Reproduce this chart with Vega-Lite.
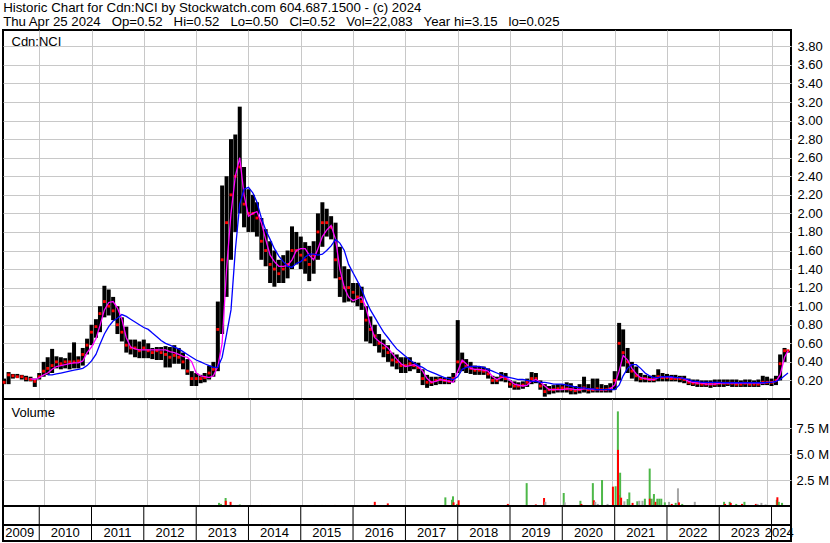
{
"$schema":"https://vega.github.io/schema/vega-lite/v6.json",
"padding":{"left":1,"top":1,"right":0,"bottom":0},
"background":"white",
"bounds":"flush",
"title":{"text":"Historic Chart for Cdn:NCI by Stockwatch.com 604.687.1500 - (c) 2024","subtitle":"Thu Apr 25 2024\u00a0\u00a0\u00a0Op=0.52\u00a0\u00a0\u00a0Hi=0.52\u00a0\u00a0\u00a0Lo=0.50\u00a0\u00a0\u00a0Cl=0.52\u00a0\u00a0\u00a0Vol=22,083\u00a0\u00a0\u00a0Year hi=3.15\u00a0\u00a0\u00a0lo=0.025","anchor":"start","font":"Liberation Sans","subtitleFont":"Liberation Sans","fontSize":13.3,"subtitleFontSize":13.2,"fontWeight":"normal","subtitleFontWeight":"normal","color":"black","subtitleColor":"black","offset":1,"subtitlePadding":1.5,"dx":2},
"config":{"view":{"stroke":"black","strokeWidth":2},"axis":{"labelFont":"Liberation Sans","labelFontSize":13,"labelColor":"black"}},
"datasets":{
"p":[
{"d":"2009-05-01","h":0.22,"l":0.16,"c":0.18,"a":null,"b":null},
{"d":"2009-06-01","h":0.29,"l":0.16,"c":0.26,"a":null,"b":null},
{"d":"2009-07-01","h":0.27,"l":0.22,"c":0.25,"a":null,"b":null},
{"d":"2009-08-01","h":0.27,"l":0.23,"c":0.24,"a":null,"b":null},
{"d":"2009-09-01","h":0.26,"l":0.21,"c":0.24,"a":null,"b":null},
{"d":"2009-10-01","h":0.25,"l":0.19,"c":0.22,"a":null,"b":null},
{"d":"2009-11-01","h":0.24,"l":0.19,"c":0.21,"a":0.22,"b":null},
{"d":"2009-12-01","h":0.22,"l":0.13,"c":0.19,"a":0.21,"b":null},
{"d":"2010-01-01","h":0.28,"l":0.21,"c":0.24,"a":0.23,"b":null},
{"d":"2010-02-01","h":0.40,"l":0.24,"c":0.30,"a":0.26,"b":null},
{"d":"2010-03-01","h":0.45,"l":0.26,"c":0.33,"a":0.28,"b":0.26},
{"d":"2010-04-01","h":0.54,"l":0.28,"c":0.36,"a":0.32,"b":0.26},
{"d":"2010-05-01","h":0.46,"l":0.33,"c":0.40,"a":0.35,"b":0.27},
{"d":"2010-06-01","h":0.45,"l":0.32,"c":0.38,"a":0.36,"b":0.28},
{"d":"2010-07-01","h":0.44,"l":0.33,"c":0.40,"a":0.37,"b":0.29},
{"d":"2010-08-01","h":0.50,"l":0.32,"c":0.40,"a":0.38,"b":0.30},
{"d":"2010-09-01","h":0.61,"l":0.33,"c":0.40,"a":0.39,"b":0.31},
{"d":"2010-10-01","h":0.46,"l":0.33,"c":0.41,"a":0.39,"b":0.32},
{"d":"2010-11-01","h":0.55,"l":0.36,"c":0.48,"a":0.41,"b":0.33},
{"d":"2010-12-01","h":0.65,"l":0.48,"c":0.58,"a":0.50,"b":0.36},
{"d":"2011-01-01","h":0.80,"l":0.58,"c":0.72,"a":0.56,"b":0.41},
{"d":"2011-02-01","h":0.86,"l":0.66,"c":0.78,"a":0.65,"b":0.48},
{"d":"2011-03-01","h":1.00,"l":0.72,"c":0.92,"a":0.79,"b":0.59},
{"d":"2011-04-01","h":1.22,"l":0.88,"c":1.05,"a":0.96,"b":0.70},
{"d":"2011-05-01","h":1.18,"l":0.90,"c":1.00,"a":1.04,"b":0.78},
{"d":"2011-06-01","h":1.10,"l":0.85,"c":0.95,"a":1.05,"b":0.84},
{"d":"2011-07-01","h":1.00,"l":0.70,"c":0.80,"a":0.98,"b":0.87},
{"d":"2011-08-01","h":0.88,"l":0.62,"c":0.72,"a":0.86,"b":0.91},
{"d":"2011-09-01","h":0.78,"l":0.50,"c":0.58,"a":0.66,"b":0.89},
{"d":"2011-10-01","h":0.64,"l":0.48,"c":0.55,"a":0.56,"b":0.86},
{"d":"2011-11-01","h":0.64,"l":0.45,"c":0.55,"a":0.54,"b":0.83},
{"d":"2011-12-01","h":0.62,"l":0.44,"c":0.52,"a":0.53,"b":0.80},
{"d":"2012-01-01","h":0.64,"l":0.44,"c":0.55,"a":0.53,"b":0.77},
{"d":"2012-02-01","h":0.60,"l":0.44,"c":0.52,"a":0.53,"b":0.75},
{"d":"2012-03-01","h":0.55,"l":0.43,"c":0.50,"a":0.53,"b":0.71},
{"d":"2012-04-01","h":0.56,"l":0.42,"c":0.52,"a":0.53,"b":0.67},
{"d":"2012-05-01","h":0.56,"l":0.42,"c":0.50,"a":0.53,"b":0.63},
{"d":"2012-06-01","h":0.57,"l":0.34,"c":0.48,"a":0.53,"b":0.60},
{"d":"2012-07-01","h":0.56,"l":0.34,"c":0.45,"a":0.51,"b":0.58},
{"d":"2012-08-01","h":0.58,"l":0.38,"c":0.47,"a":0.50,"b":0.56},
{"d":"2012-09-01","h":0.55,"l":0.38,"c":0.45,"a":0.48,"b":0.54},
{"d":"2012-10-01","h":0.50,"l":0.32,"c":0.40,"a":0.46,"b":0.51},
{"d":"2012-11-01","h":0.43,"l":0.26,"c":0.30,"a":0.45,"b":0.48},
{"d":"2012-12-01","h":0.30,"l":0.14,"c":0.22,"a":0.40,"b":0.45},
{"d":"2013-01-01","h":0.28,"l":0.14,"c":0.22,"a":0.28,"b":0.42},
{"d":"2013-02-01","h":0.26,"l":0.17,"c":0.22,"a":0.25,"b":0.40},
{"d":"2013-03-01","h":0.28,"l":0.18,"c":0.23,"a":0.24,"b":0.38},
{"d":"2013-04-01","h":0.36,"l":0.21,"c":0.28,"a":0.23,"b":0.36},
{"d":"2013-05-01","h":0.40,"l":0.24,"c":0.32,"a":0.25,"b":0.34},
{"d":"2013-06-01","h":1.05,"l":0.30,"c":0.75,"a":0.35,"b":0.34},
{"d":"2013-07-01","h":2.30,"l":0.70,"c":1.50,"a":0.60,"b":0.45},
{"d":"2013-08-01","h":2.40,"l":1.10,"c":1.90,"a":1.40,"b":0.70},
{"d":"2013-09-01","h":2.80,"l":1.50,"c":2.20,"a":2.00,"b":0.96},
{"d":"2013-10-01","h":2.85,"l":1.80,"c":2.40,"a":2.40,"b":1.60},
{"d":"2013-11-01","h":3.15,"l":2.00,"c":2.50,"a":2.60,"b":2.10},
{"d":"2013-12-01","h":2.50,"l":1.85,"c":2.10,"a":2.20,"b":2.26},
{"d":"2014-01-01","h":2.26,"l":1.80,"c":2.00,"a":1.97,"b":2.28},
{"d":"2014-02-01","h":2.20,"l":1.80,"c":2.00,"a":2.00,"b":2.22},
{"d":"2014-03-01","h":2.12,"l":1.75,"c":1.95,"a":2.02,"b":2.12},
{"d":"2014-04-01","h":1.95,"l":1.50,"c":1.70,"a":1.90,"b":1.95},
{"d":"2014-05-01","h":1.83,"l":1.43,"c":1.60,"a":1.72,"b":1.82},
{"d":"2014-06-01","h":1.70,"l":1.25,"c":1.45,"a":1.55,"b":1.72},
{"d":"2014-07-01","h":1.60,"l":1.21,"c":1.40,"a":1.48,"b":1.62},
{"d":"2014-08-01","h":1.50,"l":1.25,"c":1.35,"a":1.43,"b":1.54},
{"d":"2014-09-01","h":1.55,"l":1.25,"c":1.40,"a":1.43,"b":1.48},
{"d":"2014-10-01","h":1.60,"l":1.30,"c":1.45,"a":1.44,"b":1.43},
{"d":"2014-11-01","h":1.86,"l":1.40,"c":1.60,"a":1.50,"b":1.42},
{"d":"2014-12-01","h":1.80,"l":1.45,"c":1.60,"a":1.60,"b":1.46},
{"d":"2015-01-01","h":1.75,"l":1.40,"c":1.55,"a":1.62,"b":1.48},
{"d":"2015-02-01","h":1.69,"l":1.35,"c":1.50,"a":1.62,"b":1.53},
{"d":"2015-03-01","h":1.65,"l":1.27,"c":1.45,"a":1.55,"b":1.56},
{"d":"2015-04-01","h":1.70,"l":1.35,"c":1.55,"a":1.50,"b":1.56},
{"d":"2015-05-01","h":2.00,"l":1.50,"c":1.80,"a":1.62,"b":1.55},
{"d":"2015-06-01","h":2.12,"l":1.64,"c":1.90,"a":1.75,"b":1.56},
{"d":"2015-07-01","h":2.05,"l":1.75,"c":1.90,"a":1.82,"b":1.60},
{"d":"2015-08-01","h":1.97,"l":1.72,"c":1.85,"a":1.87,"b":1.65},
{"d":"2015-09-01","h":1.90,"l":1.30,"c":1.50,"a":1.72,"b":1.72},
{"d":"2015-10-01","h":1.64,"l":1.10,"c":1.30,"a":1.40,"b":1.68},
{"d":"2015-11-01","h":1.43,"l":1.04,"c":1.20,"a":1.20,"b":1.60},
{"d":"2015-12-01","h":1.40,"l":1.05,"c":1.20,"a":1.10,"b":1.45},
{"d":"2016-01-01","h":1.25,"l":1.04,"c":1.15,"a":1.06,"b":1.36},
{"d":"2016-02-01","h":1.25,"l":1.00,"c":1.10,"a":1.08,"b":1.27},
{"d":"2016-03-01","h":1.21,"l":0.96,"c":1.05,"a":1.10,"b":1.18},
{"d":"2016-04-01","h":1.00,"l":0.62,"c":0.85,"a":0.98,"b":1.06},
{"d":"2016-05-01","h":0.89,"l":0.60,"c":0.75,"a":0.80,"b":0.96},
{"d":"2016-06-01","h":0.80,"l":0.57,"c":0.68,"a":0.66,"b":0.88},
{"d":"2016-07-01","h":0.70,"l":0.50,"c":0.60,"a":0.62,"b":0.80},
{"d":"2016-08-01","h":0.64,"l":0.45,"c":0.55,"a":0.59,"b":0.72},
{"d":"2016-09-01","h":0.58,"l":0.40,"c":0.50,"a":0.55,"b":0.66},
{"d":"2016-10-01","h":0.50,"l":0.35,"c":0.42,"a":0.49,"b":0.60},
{"d":"2016-11-01","h":0.48,"l":0.32,"c":0.40,"a":0.43,"b":0.54},
{"d":"2016-12-01","h":0.45,"l":0.28,"c":0.36,"a":0.38,"b":0.50},
{"d":"2017-01-01","h":0.45,"l":0.28,"c":0.36,"a":0.35,"b":0.46},
{"d":"2017-02-01","h":0.45,"l":0.30,"c":0.38,"a":0.36,"b":0.42},
{"d":"2017-03-01","h":0.40,"l":0.32,"c":0.36,"a":0.37,"b":0.39},
{"d":"2017-04-01","h":0.39,"l":0.28,"c":0.34,"a":0.35,"b":0.36},
{"d":"2017-05-01","h":0.32,"l":0.15,"c":0.22,"a":0.30,"b":0.34},
{"d":"2017-06-01","h":0.26,"l":0.12,"c":0.18,"a":0.22,"b":0.31},
{"d":"2017-07-01","h":0.24,"l":0.14,"c":0.18,"a":0.18,"b":0.29},
{"d":"2017-08-01","h":0.24,"l":0.15,"c":0.20,"a":0.19,"b":0.27},
{"d":"2017-09-01","h":0.24,"l":0.16,"c":0.21,"a":0.21,"b":0.25},
{"d":"2017-10-01","h":0.23,"l":0.16,"c":0.20,"a":0.20,"b":0.23},
{"d":"2017-11-01","h":0.24,"l":0.16,"c":0.19,"a":0.19,"b":0.22},
{"d":"2017-12-01","h":0.28,"l":0.18,"c":0.22,"a":0.18,"b":0.21},
{"d":"2018-01-01","h":0.85,"l":0.28,"c":0.40,"a":0.30,"b":0.24},
{"d":"2018-02-01","h":0.50,"l":0.30,"c":0.40,"a":0.42,"b":0.32},
{"d":"2018-03-01","h":0.43,"l":0.28,"c":0.35,"a":0.38,"b":0.34},
{"d":"2018-04-01","h":0.40,"l":0.27,"c":0.33,"a":0.33,"b":0.35},
{"d":"2018-05-01","h":0.36,"l":0.26,"c":0.31,"a":0.32,"b":0.35},
{"d":"2018-06-01","h":0.35,"l":0.26,"c":0.31,"a":0.32,"b":0.35},
{"d":"2018-07-01","h":0.35,"l":0.26,"c":0.30,"a":0.31,"b":0.34},
{"d":"2018-08-01","h":0.33,"l":0.22,"c":0.27,"a":0.30,"b":0.32},
{"d":"2018-09-01","h":0.25,"l":0.16,"c":0.20,"a":0.24,"b":0.30},
{"d":"2018-10-01","h":0.24,"l":0.16,"c":0.20,"a":0.21,"b":0.28},
{"d":"2018-11-01","h":0.29,"l":0.19,"c":0.24,"a":0.23,"b":0.26},
{"d":"2018-12-01","h":0.28,"l":0.18,"c":0.22,"a":0.24,"b":0.24},
{"d":"2019-01-01","h":0.20,"l":0.12,"c":0.16,"a":0.20,"b":0.23},
{"d":"2019-02-01","h":0.19,"l":0.10,"c":0.14,"a":0.16,"b":0.22},
{"d":"2019-03-01","h":0.18,"l":0.10,"c":0.14,"a":0.15,"b":0.21},
{"d":"2019-04-01","h":0.19,"l":0.11,"c":0.15,"a":0.14,"b":0.21},
{"d":"2019-05-01","h":0.22,"l":0.13,"c":0.18,"a":0.15,"b":0.20},
{"d":"2019-06-01","h":0.29,"l":0.16,"c":0.22,"a":0.19,"b":0.19},
{"d":"2019-07-01","h":0.28,"l":0.17,"c":0.22,"a":0.21,"b":0.19},
{"d":"2019-08-01","h":0.20,"l":0.10,"c":0.14,"a":0.18,"b":0.18},
{"d":"2019-09-01","h":0.16,"l":0.025,"c":0.08,"a":0.14,"b":0.18},
{"d":"2019-10-01","h":0.14,"l":0.05,"c":0.10,"a":0.10,"b":0.17},
{"d":"2019-11-01","h":0.15,"l":0.06,"c":0.10,"a":0.10,"b":0.16},
{"d":"2019-12-01","h":0.16,"l":0.07,"c":0.11,"a":0.10,"b":0.16},
{"d":"2020-01-01","h":0.16,"l":0.07,"c":0.12,"a":0.10,"b":0.16},
{"d":"2020-02-01","h":0.18,"l":0.07,"c":0.11,"a":0.11,"b":0.15},
{"d":"2020-03-01","h":0.17,"l":0.05,"c":0.10,"a":0.11,"b":0.14},
{"d":"2020-04-01","h":0.14,"l":0.05,"c":0.09,"a":0.10,"b":0.13},
{"d":"2020-05-01","h":0.16,"l":0.06,"c":0.10,"a":0.10,"b":0.12},
{"d":"2020-06-01","h":0.24,"l":0.07,"c":0.12,"a":0.11,"b":0.12},
{"d":"2020-07-01","h":0.16,"l":0.06,"c":0.10,"a":0.11,"b":0.11},
{"d":"2020-08-01","h":0.22,"l":0.07,"c":0.10,"a":0.10,"b":0.11},
{"d":"2020-09-01","h":0.22,"l":0.07,"c":0.11,"a":0.10,"b":0.10},
{"d":"2020-10-01","h":0.16,"l":0.07,"c":0.10,"a":0.10,"b":0.10},
{"d":"2020-11-01","h":0.15,"l":0.07,"c":0.10,"a":0.10,"b":0.10},
{"d":"2020-12-01","h":0.17,"l":0.07,"c":0.11,"a":0.11,"b":0.10},
{"d":"2021-01-01","h":0.30,"l":0.10,"c":0.20,"a":0.15,"b":0.10},
{"d":"2021-02-01","h":0.82,"l":0.20,"c":0.60,"a":0.30,"b":0.15},
{"d":"2021-03-01","h":0.75,"l":0.35,"c":0.50,"a":0.47,"b":0.25},
{"d":"2021-04-01","h":0.55,"l":0.28,"c":0.40,"a":0.42,"b":0.33},
{"d":"2021-05-01","h":0.40,"l":0.22,"c":0.30,"a":0.33,"b":0.37},
{"d":"2021-06-01","h":0.35,"l":0.19,"c":0.25,"a":0.27,"b":0.37},
{"d":"2021-07-01","h":0.28,"l":0.18,"c":0.22,"a":0.23,"b":0.33},
{"d":"2021-08-01","h":0.26,"l":0.18,"c":0.22,"a":0.22,"b":0.28},
{"d":"2021-09-01","h":0.25,"l":0.18,"c":0.21,"a":0.21,"b":0.25},
{"d":"2021-10-01","h":0.26,"l":0.18,"c":0.21,"a":0.21,"b":0.23},
{"d":"2021-11-01","h":0.32,"l":0.19,"c":0.24,"a":0.23,"b":0.23},
{"d":"2021-12-01","h":0.28,"l":0.19,"c":0.23,"a":0.24,"b":0.24},
{"d":"2022-01-01","h":0.27,"l":0.19,"c":0.23,"a":0.24,"b":0.24},
{"d":"2022-02-01","h":0.26,"l":0.19,"c":0.22,"a":0.23,"b":0.24},
{"d":"2022-03-01","h":0.26,"l":0.19,"c":0.22,"a":0.23,"b":0.23},
{"d":"2022-04-01","h":0.25,"l":0.18,"c":0.22,"a":0.23,"b":0.23},
{"d":"2022-05-01","h":0.25,"l":0.17,"c":0.21,"a":0.22,"b":0.22},
{"d":"2022-06-01","h":0.22,"l":0.15,"c":0.18,"a":0.19,"b":0.21},
{"d":"2022-07-01","h":0.21,"l":0.14,"c":0.17,"a":0.18,"b":0.19},
{"d":"2022-08-01","h":0.21,"l":0.13,"c":0.17,"a":0.17,"b":0.19},
{"d":"2022-09-01","h":0.20,"l":0.13,"c":0.16,"a":0.17,"b":0.18},
{"d":"2022-10-01","h":0.20,"l":0.13,"c":0.16,"a":0.16,"b":0.18},
{"d":"2022-11-01","h":0.20,"l":0.12,"c":0.16,"a":0.16,"b":0.18},
{"d":"2022-12-01","h":0.21,"l":0.13,"c":0.16,"a":0.16,"b":0.18},
{"d":"2023-01-01","h":0.21,"l":0.13,"c":0.17,"a":0.17,"b":0.18},
{"d":"2023-02-01","h":0.21,"l":0.13,"c":0.17,"a":0.17,"b":0.175},
{"d":"2023-03-01","h":0.21,"l":0.14,"c":0.17,"a":0.17,"b":0.175},
{"d":"2023-04-01","h":0.21,"l":0.13,"c":0.17,"a":0.17,"b":0.175},
{"d":"2023-05-01","h":0.21,"l":0.13,"c":0.16,"a":0.17,"b":0.175},
{"d":"2023-06-01","h":0.20,"l":0.13,"c":0.16,"a":0.17,"b":0.175},
{"d":"2023-07-01","h":0.21,"l":0.13,"c":0.17,"a":0.17,"b":0.175},
{"d":"2023-08-01","h":0.21,"l":0.13,"c":0.16,"a":0.17,"b":0.175},
{"d":"2023-09-01","h":0.20,"l":0.13,"c":0.16,"a":0.17,"b":0.175},
{"d":"2023-10-01","h":0.21,"l":0.13,"c":0.16,"a":0.17,"b":0.175},
{"d":"2023-11-01","h":0.25,"l":0.15,"c":0.18,"a":0.17,"b":0.175},
{"d":"2023-12-01","h":0.24,"l":0.15,"c":0.18,"a":0.18,"b":0.18},
{"d":"2024-01-01","h":0.22,"l":0.14,"c":0.18,"a":0.18,"b":0.18},
{"d":"2024-02-01","h":0.25,"l":0.15,"c":0.20,"a":0.19,"b":0.19},
{"d":"2024-03-01","h":0.48,"l":0.20,"c":0.38,"a":0.26,"b":0.21},
{"d":"2024-04-01","h":0.55,"l":0.40,"c":0.52,"a":0.45,"b":0.25},
{"d":"2024-04-25","h":0.52,"l":0.50,"c":0.52,"a":0.52,"b":0.28}
],
"v":[
{"d":"2010-01-31","v":0.08,"k":"up"},
{"d":"2013-05-24","v":0.3,"k":"up"},
{"d":"2013-06-07","v":0.2,"k":"up"},
{"d":"2013-07-10","v":0.77,"k":"up"},
{"d":"2013-07-11","v":0.5,"k":"down"},
{"d":"2013-07-28","v":0.1,"k":"up"},
{"d":"2013-08-14","v":0.4,"k":"down"},
{"d":"2013-08-30","v":0.1,"k":"up"},
{"d":"2013-09-17","v":0.1,"k":"up"},
{"d":"2013-10-04","v":0.1,"k":"up"},
{"d":"2013-10-18","v":0.15,"k":"up"},
{"d":"2013-11-08","v":0.08,"k":"up"},
{"d":"2013-11-22","v":0.08,"k":"down"},
{"d":"2014-03-21","v":0.1,"k":"down"},
{"d":"2014-05-22","v":0.1,"k":"down"},
{"d":"2015-04-04","v":0.1,"k":"up"},
{"d":"2015-05-23","v":0.1,"k":"up"},
{"d":"2015-06-15","v":0.1,"k":"up"},
{"d":"2015-08-22","v":0.1,"k":"down"},
{"d":"2015-12-10","v":0.1,"k":"up"},
{"d":"2016-04-08","v":0.1,"k":"down"},
{"d":"2016-05-30","v":0.4,"k":"down"},
{"d":"2016-08-30","v":0.25,"k":"down"},
{"d":"2016-10-27","v":0.08,"k":"up"},
{"d":"2016-11-27","v":0.08,"k":"down"},
{"d":"2017-04-27","v":0.06,"k":"down"},
{"d":"2017-06-15","v":0.05,"k":"up"},
{"d":"2017-09-13","v":0.06,"k":"down"},
{"d":"2017-10-11","v":0.83,"k":"up"},
{"d":"2017-10-18","v":0.08,"k":"down"},
{"d":"2017-11-27","v":0.6,"k":"up"},
{"d":"2017-12-04","v":0.93,"k":"up"},
{"d":"2017-12-08","v":0.35,"k":"down"},
{"d":"2018-01-02","v":0.2,"k":"up"},
{"d":"2018-01-13","v":0.55,"k":"down"},
{"d":"2018-12-27","v":0.2,"k":"down"},
{"d":"2019-05-09","v":2.2,"k":"up"},
{"d":"2019-05-25","v":0.05,"k":"flat"},
{"d":"2019-07-13","v":0.15,"k":"down"},
{"d":"2019-07-29","v":0.05,"k":"flat"},
{"d":"2019-09-09","v":0.77,"k":"down"},
{"d":"2019-09-18","v":0.4,"k":"flat"},
{"d":"2020-01-26","v":1.25,"k":"up"},
{"d":"2020-02-02","v":0.35,"k":"flat"},
{"d":"2020-05-13","v":0.1,"k":"down"},
{"d":"2020-05-23","v":0.5,"k":"up"},
{"d":"2020-05-30","v":0.2,"k":"down"},
{"d":"2020-08-19","v":2.2,"k":"up"},
{"d":"2020-08-26","v":0.55,"k":"down"},
{"d":"2020-09-05","v":0.4,"k":"flat"},
{"d":"2020-09-23","v":0.2,"k":"flat"},
{"d":"2020-10-09","v":0.1,"k":"flat"},
{"d":"2020-10-23","v":2.5,"k":"up"},
{"d":"2020-11-01","v":0.1,"k":"flat"},
{"d":"2020-12-01","v":0.2,"k":"flat"},
{"d":"2021-01-08","v":1.86,"k":"down"},
{"d":"2021-01-27","v":1.9,"k":"up"},
{"d":"2021-02-12","v":9.1,"k":"up"},
{"d":"2021-02-13","v":5.4,"k":"down"},
{"d":"2021-02-18","v":1.05,"k":"down"},
{"d":"2021-02-28","v":3.2,"k":"up"},
{"d":"2021-03-07","v":0.8,"k":"down"},
{"d":"2021-03-30","v":0.45,"k":"flat"},
{"d":"2021-04-22","v":0.67,"k":"up"},
{"d":"2021-05-04","v":1.3,"k":"up"},
{"d":"2021-05-27","v":0.3,"k":"down"},
{"d":"2021-06-29","v":0.45,"k":"up"},
{"d":"2021-07-13","v":0.5,"k":"flat"},
{"d":"2021-08-05","v":0.5,"k":"flat"},
{"d":"2021-08-22","v":0.7,"k":"up"},
{"d":"2021-09-25","v":3.6,"k":"up"},
{"d":"2021-09-26","v":0.7,"k":"down"},
{"d":"2021-10-09","v":0.7,"k":"up"},
{"d":"2021-10-25","v":1.15,"k":"up"},
{"d":"2021-11-06","v":0.4,"k":"down"},
{"d":"2021-11-18","v":0.7,"k":"up"},
{"d":"2021-12-02","v":0.7,"k":"up"},
{"d":"2021-12-16","v":0.7,"k":"up"},
{"d":"2022-01-10","v":0.35,"k":"up"},
{"d":"2022-02-09","v":0.4,"k":"flat"},
{"d":"2022-02-28","v":0.2,"k":"down"},
{"d":"2022-03-28","v":0.3,"k":"up"},
{"d":"2022-04-13","v":1.7,"k":"flat"},
{"d":"2022-04-20","v":0.35,"k":"down"},
{"d":"2022-05-13","v":0.2,"k":"up"},
{"d":"2022-08-10","v":0.4,"k":"flat"},
{"d":"2022-09-07","v":0.1,"k":"flat"},
{"d":"2022-10-12","v":0.1,"k":"flat"},
{"d":"2022-11-16","v":0.1,"k":"flat"},
{"d":"2023-03-05","v":0.4,"k":"up"},
{"d":"2023-03-12","v":0.2,"k":"down"},
{"d":"2023-04-14","v":0.4,"k":"up"},
{"d":"2023-04-21","v":0.3,"k":"down"},
{"d":"2023-05-30","v":0.2,"k":"up"},
{"d":"2023-07-10","v":0.2,"k":"down"},
{"d":"2023-07-27","v":0.4,"k":"up"},
{"d":"2023-08-24","v":0.1,"k":"down"},
{"d":"2023-10-16","v":0.2,"k":"down"},
{"d":"2023-10-28","v":0.2,"k":"flat"},
{"d":"2023-11-24","v":0.3,"k":"flat"},
{"d":"2023-12-24","v":0.15,"k":"flat"},
{"d":"2024-01-17","v":0.1,"k":"flat"},
{"d":"2024-02-16","v":0.1,"k":"flat"},
{"d":"2024-03-12","v":0.6,"k":"up"},
{"d":"2024-03-16","v":0.84,"k":"down"},
{"d":"2024-03-26","v":0.4,"k":"up"},
{"d":"2024-04-18","v":0.3,"k":"up"}
],
"yb":[
{"d":"2010-01-01"},{"d":"2011-01-01"},{"d":"2012-01-01"},{"d":"2013-01-01"},{"d":"2014-01-01"},{"d":"2015-01-01"},{"d":"2016-01-01"},{"d":"2017-01-01"},{"d":"2018-01-01"},{"d":"2019-01-01"},{"d":"2020-01-01"},{"d":"2021-01-01"},{"d":"2022-01-01"},{"d":"2023-01-01"},{"d":"2024-01-01"}
],
"yl":[
{"y":"2009","m":"2009-08-18"},{"y":"2010","m":"2010-07-02"},{"y":"2011","m":"2011-07-02"},{"y":"2012","m":"2012-07-02"},{"y":"2013","m":"2013-07-02"},{"y":"2014","m":"2014-07-02"},{"y":"2015","m":"2015-07-02"},{"y":"2016","m":"2016-07-02"},{"y":"2017","m":"2017-07-02"},{"y":"2018","m":"2018-07-02"},{"y":"2019","m":"2019-07-02"},{"y":"2020","m":"2020-07-02"},{"y":"2021","m":"2021-07-02"},{"y":"2022","m":"2022-07-02"},{"y":"2023","m":"2023-07-02"},{"y":"2024","m":"2024-02-24"}
]
},
"spacing":0,
"vconcat":[
{
"width":788,"height":369,
"data":{"name":"p"},
"encoding":{"x":{"field":"d","type":"temporal","scale":{"type":"utc","domain":[{"year":2009,"month":4,"date":23,"utc":true},{"year":2024,"month":5,"date":16,"utc":true}]},"axis":{"orient":"top","title":"Cdn:NCI","titleX":8,"titleY":15,"titleAlign":"left","titleAnchor":"start","titleBaseline":"alphabetic","titleAngle":0,"titleFont":"Liberation Sans","titleFontSize":13,"titleFontWeight":"normal","titleColor":"black","labels":false,"ticks":false,"domain":false,"grid":true,"gridColor":"#c8c8c8","gridWidth":1,"tickCount":{"interval":"year","step":1}}}},
"layer":[
{"mark":{"type":"rule","color":"black","strokeWidth":4},"encoding":{"y":{"field":"l","type":"quantitative","scale":{"domain":[0,3.976],"nice":false,"zero":false},"axis":{"orient":"right","title":null,"values":[0.2,0.4,0.6,0.8,1.0,1.2,1.4,1.6,1.8,2.0,2.2,2.4,2.6,2.8,3.0,3.2,3.4,3.6,3.8],"format":".2f","grid":true,"gridColor":"#c8c8c8","gridWidth":1,"domain":false,"ticks":false,"tickSize":0,"labelPadding":6}},"y2":{"field":"h"}}},
{"mark":{"type":"square","color":"#ff0000","size":8,"opacity":1},"encoding":{"y":{"field":"c","type":"quantitative","axis":{"orient":"right","title":null,"values":[0.2,0.4,0.6,0.8,1.0,1.2,1.4,1.6,1.8,2.0,2.2,2.4,2.6,2.8,3.0,3.2,3.4,3.6,3.8],"format":".2f","grid":true,"gridColor":"#c8c8c8","gridWidth":1,"domain":false,"ticks":false,"tickSize":0,"labelPadding":6}}}},
{"mark":{"type":"line","color":"#ff00ff","strokeWidth":1.3},"encoding":{"y":{"field":"a","type":"quantitative","axis":{"orient":"right","title":null,"values":[0.2,0.4,0.6,0.8,1.0,1.2,1.4,1.6,1.8,2.0,2.2,2.4,2.6,2.8,3.0,3.2,3.4,3.6,3.8],"format":".2f","grid":true,"gridColor":"#c8c8c8","gridWidth":1,"domain":false,"ticks":false,"tickSize":0,"labelPadding":6}}}},
{"mark":{"type":"line","color":"#0000ff","strokeWidth":1.3},"encoding":{"y":{"field":"b","type":"quantitative","axis":{"orient":"right","title":null,"values":[0.2,0.4,0.6,0.8,1.0,1.2,1.4,1.6,1.8,2.0,2.2,2.4,2.6,2.8,3.0,3.2,3.4,3.6,3.8],"format":".2f","grid":true,"gridColor":"#c8c8c8","gridWidth":1,"domain":false,"ticks":false,"tickSize":0,"labelPadding":6}}}}
]
},
{
"width":788,"height":107,
"data":{"name":"v"},
"mark":{"type":"bar","size":2},
"encoding":{
"x":{"field":"d","type":"temporal","scale":{"type":"utc","domain":[{"year":2009,"month":4,"date":23,"utc":true},{"year":2024,"month":5,"date":16,"utc":true}]},"axis":{"orient":"top","title":"Volume","titleX":8,"titleY":17,"titleAlign":"left","titleAnchor":"start","titleBaseline":"alphabetic","titleAngle":0,"titleFont":"Liberation Sans","titleFontSize":13,"titleFontWeight":"normal","titleColor":"black","labels":false,"ticks":false,"domain":false,"grid":true,"gridColor":"#c8c8c8","gridWidth":1,"tickCount":{"interval":"year","step":1}}},
"y":{"field":"v","type":"quantitative","stack":null,"scale":{"domain":[0,10.29],"nice":false},"axis":{"orient":"right","title":null,"values":[2.5,5,7.5],"labelExpr":"format(datum.value, '.1f') + ' M'","grid":true,"gridColor":"#c8c8c8","gridWidth":1,"domain":false,"ticks":false,"tickSize":0,"labelPadding":5}},
"color":{"field":"k","type":"nominal","scale":{"domain":["up","down","flat"],"range":["#4db848","#ff0000","#a6a6a6"]},"legend":null}
}
},
{
"width":788,"height":19,
"data":{"name":"yb"},
"mark":{"type":"rule","color":"black","strokeWidth":1},
"encoding":{"x":{"field":"d","type":"temporal","scale":{"type":"utc","domain":[{"year":2009,"month":4,"date":23,"utc":true},{"year":2024,"month":5,"date":16,"utc":true}]},"axis":null}}
},
{
"width":788,"height":16,
"layer":[
{"data":{"name":"yb"},"mark":{"type":"rule","color":"black","strokeWidth":1},"encoding":{"x":{"field":"d","type":"temporal","scale":{"type":"utc","domain":[{"year":2009,"month":4,"date":23,"utc":true},{"year":2024,"month":5,"date":16,"utc":true}]},"axis":null}}},
{"data":{"name":"yl"},"mark":{"type":"text","fontSize":13,"font":"Liberation Sans","color":"black","baseline":"middle"},"encoding":{"x":{"field":"m","type":"temporal","axis":null},"text":{"field":"y"}}}
]
}
]
}
